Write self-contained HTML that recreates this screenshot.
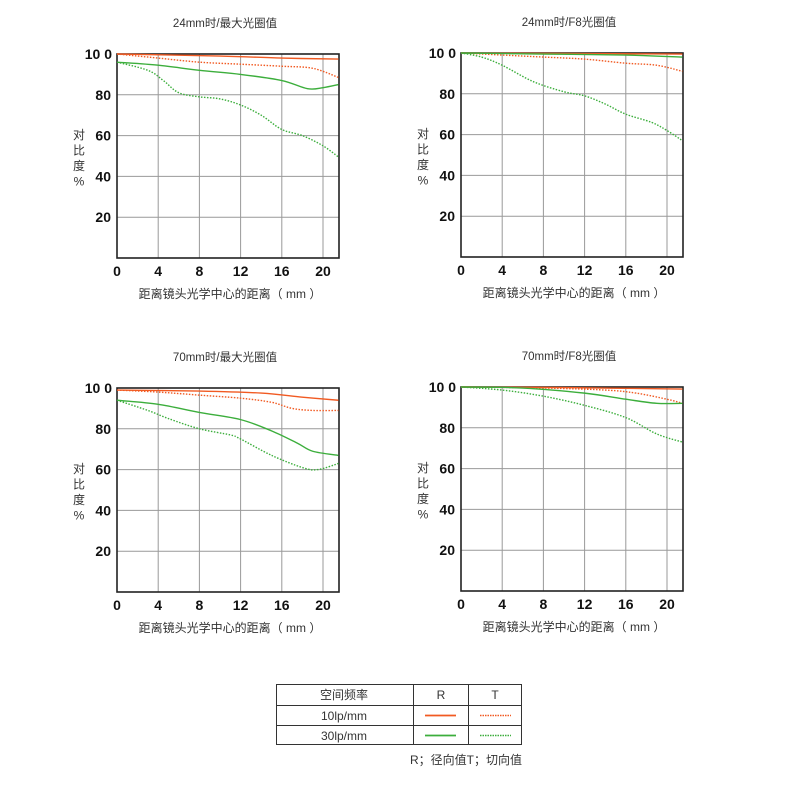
<!DOCTYPE html>
<html><head><meta charset="utf-8"><style>
body{margin:0;background:#fff;width:790px;height:791px;overflow:hidden}
svg text{font-family:"Liberation Sans","Noto Sans CJK SC",sans-serif}
</style></head><body>
<svg id="s" width="790" height="791" xmlns="http://www.w3.org/2000/svg"></svg>
<script>
var s=document.getElementById('s'),h='';
var OR='#f15a22',GR='#3cae3c';
function path(pts,L,B){var P=pts.map(function(p){return [L+p[0]*10.3,B-p[1]*2.04]});
 var d='M'+P[0][0]+' '+P[0][1];
 for(var i=0;i<P.length-1;i++){var p0=P[i-1]||P[i],p1=P[i],p2=P[i+1],p3=P[i+2]||p2;
  d+=' C'+(p1[0]+(p2[0]-p0[0])/6)+' '+(p1[1]+(p2[1]-p0[1])/6)+' '+(p2[0]-(p3[0]-p1[0])/6)+' '+(p2[1]-(p3[1]-p1[1])/6)+' '+p2[0]+' '+p2[1];}
 return d;}
function chart(L,B,title,series){
 var R=L+222,T=B-204;
 var cx=L+111;
 h+='<text x="'+(cx-3)+'" y="'+(T-27)+'" font-size="11.5" text-anchor="middle" fill="#333">'+title+'</text>';
 for(var i=1;i<=5;i++){var x=L+i*4*10.3;h+='<line x1="'+x+'" y1="'+T+'" x2="'+x+'" y2="'+B+'" stroke="#999" stroke-width="1"/>';
  var y=B-i*20*2.04;h+='<line x1="'+L+'" y1="'+y+'" x2="'+R+'" y2="'+y+'" stroke="#999" stroke-width="1"/>';}
 h+='<rect x="'+L+'" y="'+T+'" width="222" height="204" fill="none" stroke="#222" stroke-width="1.6"/>';
 for(var i=1;i<=4;i++){h+='<text x="'+(L-6)+'" y="'+(B-i*20*2.04+5)+'" font-size="14" font-weight="bold" text-anchor="end" fill="#111">'+(i*20)+'</text>';}
 h+='<text x="'+(L-5)+'" y="'+(T+5)+'" font-size="14" font-weight="bold" text-anchor="end" fill="#111">10 0</text>';
 for(var i=0;i<=5;i++){h+='<text x="'+(L+i*41.2)+'" y="'+(B+18)+'" font-size="14" font-weight="bold" text-anchor="middle" fill="#111">'+(i*4)+'</text>';}
 h+='<text x="'+(cx+2)+'" y="'+(B+40)+'" font-size="12" text-anchor="middle" fill="#333">距离镜头光学中心的距离（ mm ）</text>';
 var ly=T+85;['对','比','度','%'].forEach(function(c,k){h+='<text x="'+(L-38)+'" y="'+(ly+k*15.5)+'" font-size="12" text-anchor="middle" fill="#333">'+c+'</text>';});
 series.forEach(function(sr){h+='<path d="'+path(sr[2],L,B)+'" fill="none" stroke="'+sr[0]+'" stroke-width="1.4"'+(sr[1]?' stroke-dasharray="1.5 1.5"':'')+'/>';});
}
chart(117,258,'24mm时/最大光圈值',[
 [OR,0,[[0,100],[10,99],[16,98],[21.5,97.5]]],
 [OR,1,[[0,100],[4,98],[8,96],[12,95],[16,94],[19,93],[21.5,88.5]]],
 [GR,0,[[0,96],[4,94.5],[8,92],[12,90],[16,87],[18.5,83],[20,83.5],[21.5,85]]],
 [GR,1,[[0,96],[3,92],[4.5,87],[6,81],[8,79],[10,78],[12,75],[14,70],[16,63],[18,60],[20,55],[21.5,49.5]]]]);
chart(461,257,'24mm时/F8光圈值',[
 [OR,0,[[0,100],[10,99.8],[21.5,99.5]]],
 [OR,1,[[0,100],[4,99],[8,98],[12,97],[16,95],[19,94],[21.5,91]]],
 [GR,0,[[0,100],[8,99.5],[16,99],[21.5,98]]],
 [GR,1,[[0,100],[2,98],[4,94],[7,86],[10,81],[12,79],[14,75],[16,70],[18.5,66],[20,62],[21.5,57]]]]);
chart(117,592,'70mm时/最大光圈值',[
 [OR,0,[[0,99],[8,98.5],[14,97.5],[18,95.5],[21.5,94]]],
 [OR,1,[[0,99],[4,98],[8,96.5],[12,95],[15,93],[17,90],[19,89],[21.5,89]]],
 [GR,0,[[0,94],[4,92],[8,88],[12,84.5],[15,79],[17.5,73],[19,69],[21.5,67]]],
 [GR,1,[[0,94],[3,89],[5,85],[8,80],[11,77],[12,75],[15,67],[18,61],[19.5,60],[21.5,63]]]]);
chart(461,591,'70mm时/F8光圈值',[
 [OR,0,[[0,100],[10,99.7],[21.5,99]]],
 [OR,1,[[0,100],[8,99.5],[14,98.5],[17,97],[20,94],[21.5,92]]],
 [GR,0,[[0,100],[6,99.5],[12,97],[16,94],[19,92],[21.5,92]]],
 [GR,1,[[0,100],[4,98.5],[8,95.5],[12,91],[16,85],[19,77],[21.5,73]]]]);
h+='<rect x="276.5" y="684.5" width="245" height="60" fill="none" stroke="#333" stroke-width="1"/>';
h+='<line x1="276" y1="705.5" x2="522" y2="705.5" stroke="#333"/><line x1="276" y1="725.5" x2="522" y2="725.5" stroke="#333"/>';
h+='<line x1="413.5" y1="684" x2="413.5" y2="745" stroke="#333"/><line x1="468.5" y1="684" x2="468.5" y2="745" stroke="#333"/>';
h+='<text x="344" y="699" font-size="12" text-anchor="middle" fill="#333">空间频率</text>';
h+='<text x="441" y="699" font-size="12" text-anchor="middle" fill="#333">R</text>';
h+='<text x="495" y="699" font-size="12" text-anchor="middle" fill="#333">T</text>';
h+='<text x="344" y="720" font-size="12" text-anchor="middle" fill="#333">10lp/mm</text>';
h+='<text x="344" y="740" font-size="12" text-anchor="middle" fill="#333">30lp/mm</text>';
h+='<line x1="425" y1="715.5" x2="456" y2="715.5" stroke="'+OR+'" stroke-width="1.8"/>';
h+='<line x1="480" y1="715.5" x2="511" y2="715.5" stroke="'+OR+'" stroke-width="1.4" stroke-dasharray="1.5 1"/>';
h+='<line x1="425" y1="735.5" x2="456" y2="735.5" stroke="'+GR+'" stroke-width="1.8"/>';
h+='<line x1="480" y1="735.5" x2="511" y2="735.5" stroke="'+GR+'" stroke-width="1.4" stroke-dasharray="1.5 1"/>';
h+='<text x="522" y="764" font-size="12" text-anchor="end" fill="#333">R；径向值T；切向值</text>';
s.innerHTML=h;
</script>
</body></html>
